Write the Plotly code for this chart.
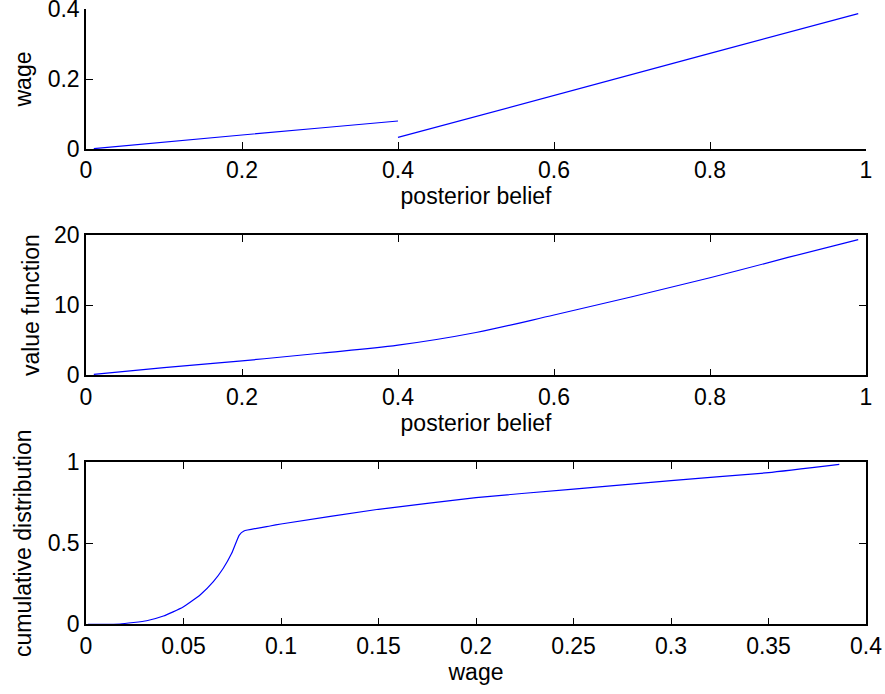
import plotly.graph_objects as go

# ---- data ----
belief_seg1 = [0.01, 0.1, 0.2, 0.3, 0.4]
wage_seg1 = [0.001, 0.02, 0.04, 0.06, 0.08]
belief_seg2 = [0.4, 0.6, 0.8, 0.99]
wage_seg2 = [0.033, 0.152, 0.273, 0.387]

belief_vf = [0.01, 0.1, 0.2, 0.3, 0.4, 0.5, 0.6, 0.7, 0.8, 0.9, 0.99]
value_fn = [0.12, 1.08, 2.06, 3.14, 4.3, 6.1, 8.6, 11.2, 13.9, 16.8, 19.33]

cdf_wage = [0.001, 0.0174, 0.0311, 0.0397, 0.0496, 0.0585, 0.0653, 0.0704,
            0.0747, 0.0786, 0.0810, 0.0944, 0.1, 0.15, 0.2, 0.25, 0.3, 0.35, 0.3863]
cdf_val = [0.0, 0.002, 0.022, 0.051, 0.105, 0.181, 0.263, 0.346,
           0.438, 0.551, 0.576, 0.607, 0.619, 0.71, 0.782, 0.835, 0.887, 0.936, 0.987]

belief_ticks = [0, 0.2, 0.4, 0.6, 0.8, 1]
belief_ticklabels = ["0", "0.2", "0.4", "0.6", "0.8", "1"]
wage_y_ticks = [0, 0.2, 0.4]
wage_y_ticklabels = ["0", "0.2", "0.4"]
vf_ticks = [0, 10, 20]
vf_ticklabels = ["0", "10", "20"]
cdf_x_ticks = [0, 0.05, 0.1, 0.15, 0.2, 0.25, 0.3, 0.35, 0.4]
cdf_x_ticklabels = ["0", "0.05", "0.1", "0.15", "0.2", "0.25", "0.3", "0.35", "0.4"]
cdf_y_ticks = [0, 0.5, 1]
cdf_y_ticklabels = ["0", "0.5", "1"]

LINE = dict(color="#0000ff", width=1.2)
FONT = dict(family="Liberation Sans, Arial, Helvetica, sans-serif", size=23, color="black")

fig = go.Figure()
fig.add_trace(go.Scatter(x=belief_seg1 + [None] + belief_seg2,
                         y=wage_seg1 + [None] + wage_seg2,
                         mode="lines", line=LINE, connectgaps=False,
                         xaxis="x", yaxis="y", showlegend=False))
fig.add_trace(go.Scatter(x=belief_vf, y=value_fn, mode="lines",
                         line=dict(LINE, shape="spline", smoothing=1.0),
                         xaxis="x2", yaxis="y2", showlegend=False))
fig.add_trace(go.Scatter(x=cdf_wage, y=cdf_val, mode="lines",
                         line=dict(LINE, shape="spline", smoothing=0.4),
                         xaxis="x3", yaxis="y3", showlegend=False))

xd = [86 / 885, 866 / 885]
H = 694.0
def ydom(top, bottom):
    return [1 - bottom / H, 1 - top / H]

common = dict(showgrid=False, zeroline=False, showline=True, linecolor="black",
              linewidth=1.5, ticks="inside", ticklen=7, tickcolor="black",
              tickwidth=1, tickfont=FONT, title_font=FONT, automargin=False,
              ticklabeloverflow="allow")

fig.update_layout(
    width=885, height=694,
    margin=dict(l=0, r=0, t=0, b=0),
    paper_bgcolor="white", plot_bgcolor="white",
    font=FONT,
    xaxis=dict(common, domain=xd, anchor="y", range=[0, 1], tickvals=belief_ticks,
               ticktext=belief_ticklabels, mirror=False,
               title=dict(text="posterior belief", standoff=4)),
    yaxis=dict(common, domain=ydom(9, 149), anchor="x", range=[0, 0.4],
               tickvals=wage_y_ticks, ticktext=wage_y_ticklabels, mirror=False,
               title=dict(text="wage", standoff=10)),
    xaxis2=dict(common, domain=xd, anchor="y2", range=[0, 1], tickvals=belief_ticks,
                ticktext=belief_ticklabels, mirror="ticks",
                title=dict(text="posterior belief", standoff=4)),
    yaxis2=dict(common, domain=ydom(235, 375.3), anchor="x2", range=[0, 20],
                tickvals=vf_ticks, ticktext=vf_ticklabels, mirror="ticks",
                title=dict(text="value function", standoff=8)),
    xaxis3=dict(common, domain=xd, anchor="y3", range=[0, 0.4], tickvals=cdf_x_ticks,
                ticktext=cdf_x_ticklabels, mirror="ticks",
                title=dict(text="wage", standoff=4)),
    yaxis3=dict(common, domain=ydom(462.3, 624.3), anchor="x3", range=[0, 1],
                tickvals=cdf_y_ticks, ticktext=cdf_y_ticklabels, mirror="ticks",
                title=dict(text="cumulative distribution", standoff=10)),
)

fig.write_html("out.html",
               config={"displayModeBar": False},
               post_script="document.body.style.margin='0';document.body.style.overflow='hidden';")
